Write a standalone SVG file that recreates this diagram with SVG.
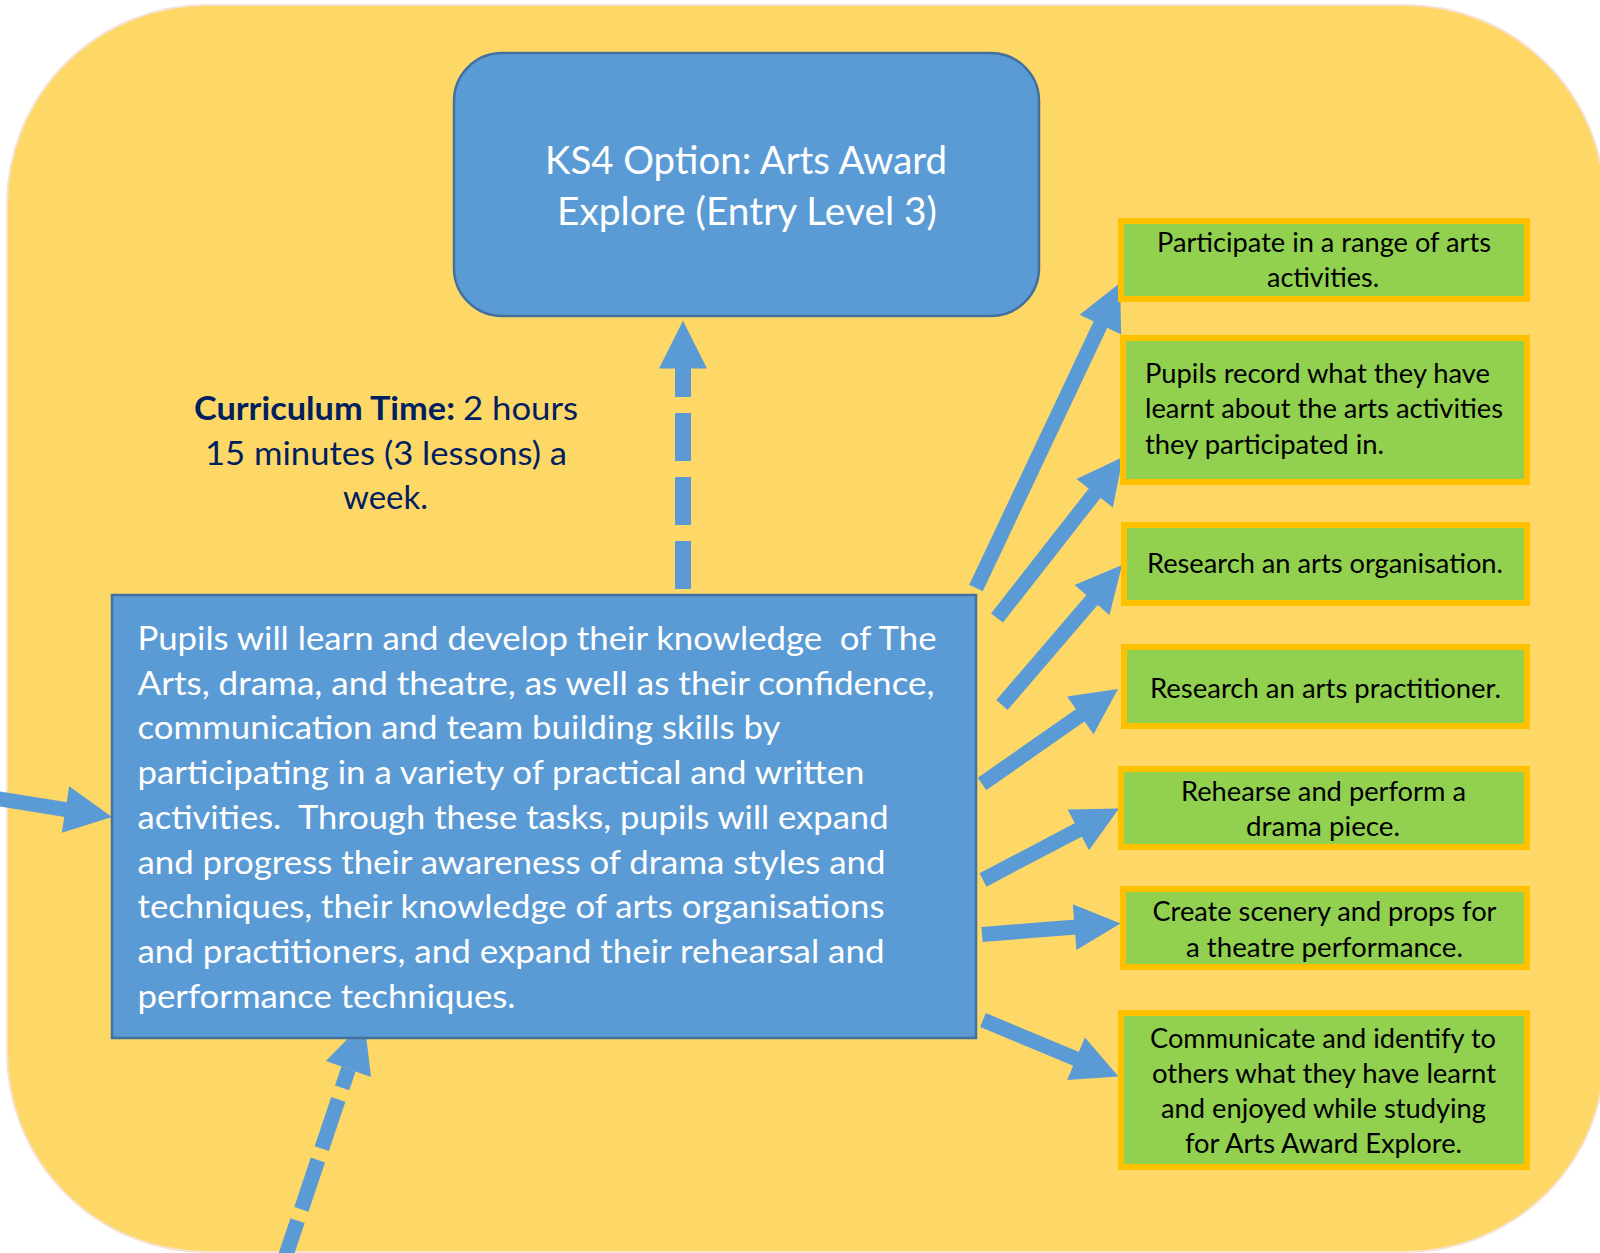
<svg xmlns="http://www.w3.org/2000/svg" width="1600" height="1253" viewBox="0 0 1600 1253">
<style>
  text { font-family: Lato, "Liberation Sans", "DejaVu Sans", sans-serif; }
  .bg { fill:#FED866; stroke:#F6E1D2; stroke-width:2; }
  .blue { fill:#5B9BD5; stroke:#41719C; stroke-width:2.5; }
  .green { fill:#92D050; stroke:#FFC000; stroke-width:6; }
  .wt { fill:#FFFFFF; }
  .title { font-size:38px; }
  .body { font-size:32px; white-space:pre; }
  .cur { fill:#002060; font-size:32px; }
  .gt { fill:#000000; font-size:26px; }
  .shaft { stroke:#5B9BD5; stroke-width:15; fill:none; stroke-linecap:butt; }
  .head { fill:#5B9BD5; stroke:none; }
</style>

<rect class="bg" x="7" y="5" width="1598" height="1247" rx="200" ry="200"/>

<g id="connectors">
  <g id="arrow-main-to-title">
    <line class="shaft" x1="683" y1="368" x2="683" y2="589" style="stroke-width:16;stroke-dasharray:48 16;stroke-dashoffset:19"/>
    <polygon class="head" points="683,320.7 707,368.5 659,368.5"/>
  </g>
  <g id="arrow-bottom-to-main">
    <line class="shaft" x1="348.5" y1="1069" x2="284.8" y2="1258.6" style="stroke-dasharray:52 12;stroke-dashoffset:32"/>
    <polygon class="head" points="364.4,1021.6 371,1077 326,1061"/>
  </g>
  <g id="arrow-left-to-main">
    <line class="shaft" x1="-13.5" y1="796.8" x2="66" y2="809.6"/>
    <polygon class="head" points="112,817 69.2,786.3 61.8,832.7"/>
  </g>
  <g id="arrow-1">
    <line class="shaft" x1="976" y1="588" x2="1101.3" y2="322.8"/>
    <polygon class="head" points="1120,283 1121.2,334.4 1079.6,314.8"/>
  </g>
  <g id="arrow-2">
    <line class="shaft" x1="997" y1="618" x2="1095.9" y2="491.6"/>
    <polygon class="head" points="1123,457 1112.8,507.4 1076.5,479.1"/>
  </g>
  <g id="arrow-3">
    <line class="shaft" x1="1002" y1="705" x2="1093.4" y2="598.4"/>
    <polygon class="head" points="1122,565 1109.5,614.9 1074.6,585"/>
  </g>
  <g id="arrow-4">
    <line class="shaft" x1="982" y1="784" x2="1081.9" y2="714.2"/>
    <polygon class="head" points="1118,689 1093.5,734.2 1067.1,696.5"/>
  </g>
  <g id="arrow-5">
    <line class="shaft" x1="983" y1="880" x2="1080" y2="829"/>
    <polygon class="head" points="1119,808.5 1089,850.3 1067.6,809.5"/>
  </g>
  <g id="arrow-6">
    <line class="shaft" x1="982" y1="934.5" x2="1076.5" y2="927"/>
    <polygon class="head" points="1120.5,923.5 1076.4,950 1072.8,904.2"/>
  </g>
  <g id="arrow-7">
    <line class="shaft" x1="983" y1="1020" x2="1078" y2="1059.6"/>
    <polygon class="head" points="1118.5,1076.5 1067.2,1080 1084.9,1037.6"/>
  </g>
</g>

<g id="node-title">
  <rect class="blue" x="454" y="53" width="585" height="263" rx="48" ry="48"/>
  <text class="wt title" x="545" y="174" textLength="402" lengthAdjust="spacingAndGlyphs">KS4 Option: Arts Award</text>
  <text class="wt title" x="557" y="225" textLength="380" lengthAdjust="spacingAndGlyphs">Explore (Entry Level 3)</text>
</g>

<g id="node-time">
  <text class="cur" x="194" y="420" font-weight="700" textLength="261" lengthAdjust="spacingAndGlyphs">Curriculum Time:</text>
  <text class="cur" x="463" y="420" textLength="115" lengthAdjust="spacingAndGlyphs">2 hours</text>
  <text class="cur" x="205" y="465" textLength="362" lengthAdjust="spacingAndGlyphs">15 minutes (3 lessons) a</text>
  <text class="cur" x="343" y="509" textLength="85" lengthAdjust="spacingAndGlyphs">week.</text>
</g>

<g id="node-main">
  <rect class="blue" x="112" y="595" width="864" height="443"/>
  <text class="wt body" xml:space="preserve" x="137.5" y="650" textLength="799" lengthAdjust="spacingAndGlyphs">Pupils will learn and develop their knowledge  of The</text>
  <text class="wt body" x="137.5" y="694.7" textLength="797" lengthAdjust="spacingAndGlyphs">Arts, drama, and theatre, as well as their confidence,</text>
  <text class="wt body" x="137.5" y="739.4" textLength="643" lengthAdjust="spacingAndGlyphs">communication and team building skills by</text>
  <text class="wt body" x="137.5" y="784.1" textLength="727" lengthAdjust="spacingAndGlyphs">participating in a variety of practical and written</text>
  <text class="wt body" xml:space="preserve" x="137.5" y="828.8" textLength="751" lengthAdjust="spacingAndGlyphs">activities.  Through these tasks, pupils will expand</text>
  <text class="wt body" x="137.5" y="873.5" textLength="748" lengthAdjust="spacingAndGlyphs">and progress their awareness of drama styles and</text>
  <text class="wt body" x="137.5" y="918.2" textLength="747" lengthAdjust="spacingAndGlyphs">techniques, their knowledge of arts organisations</text>
  <text class="wt body" x="137.5" y="962.9" textLength="747" lengthAdjust="spacingAndGlyphs">and practitioners, and expand their rehearsal and</text>
  <text class="wt body" x="137.5" y="1007.6" textLength="378" lengthAdjust="spacingAndGlyphs">performance techniques.</text>
</g>

<g id="node-participate">
  <rect class="green" x="1121" y="221" width="406" height="78"/>
  <text class="gt" x="1157" y="251.5" textLength="334" lengthAdjust="spacingAndGlyphs">Participate in a range of arts</text>
  <text class="gt" x="1267" y="287" textLength="112" lengthAdjust="spacingAndGlyphs">activities.</text>
</g>

<g id="node-record">
  <rect class="green" x="1123" y="338" width="404" height="144"/>
  <text class="gt" x="1145" y="383" textLength="345" lengthAdjust="spacingAndGlyphs">Pupils record what they have</text>
  <text class="gt" x="1145" y="418" textLength="358" lengthAdjust="spacingAndGlyphs">learnt about the arts activities</text>
  <text class="gt" x="1145" y="454" textLength="239" lengthAdjust="spacingAndGlyphs">they participated in.</text>
</g>

<g id="node-organisation">
  <rect class="green" x="1124" y="525" width="403" height="78"/>
  <text class="gt" x="1147" y="573" textLength="356" lengthAdjust="spacingAndGlyphs">Research an arts organisation.</text>
</g>

<g id="node-practitioner">
  <rect class="green" x="1124" y="647" width="403" height="79"/>
  <text class="gt" x="1150" y="697.5" textLength="351" lengthAdjust="spacingAndGlyphs">Research an arts practitioner.</text>
</g>

<g id="node-rehearse">
  <rect class="green" x="1121" y="769" width="406" height="78"/>
  <text class="gt" x="1181" y="801" textLength="285" lengthAdjust="spacingAndGlyphs">Rehearse and perform a</text>
  <text class="gt" x="1246" y="836" textLength="154" lengthAdjust="spacingAndGlyphs">drama piece.</text>
</g>

<g id="node-scenery">
  <rect class="green" x="1123" y="889" width="404" height="78"/>
  <text class="gt" x="1152.5" y="921" textLength="344" lengthAdjust="spacingAndGlyphs">Create scenery and props for</text>
  <text class="gt" x="1186" y="957" textLength="277" lengthAdjust="spacingAndGlyphs">a theatre performance.</text>
</g>

<g id="node-communicate">
  <rect class="green" x="1121" y="1013" width="406" height="154"/>
  <text class="gt" x="1150" y="1047.5" textLength="346" lengthAdjust="spacingAndGlyphs">Communicate and identify to</text>
  <text class="gt" x="1152" y="1083" textLength="344" lengthAdjust="spacingAndGlyphs">others what they have learnt</text>
  <text class="gt" x="1161" y="1118" textLength="325" lengthAdjust="spacingAndGlyphs">and enjoyed while studying</text>
  <text class="gt" x="1185" y="1152.5" textLength="277" lengthAdjust="spacingAndGlyphs">for Arts Award Explore.</text>
</g>
</svg>
